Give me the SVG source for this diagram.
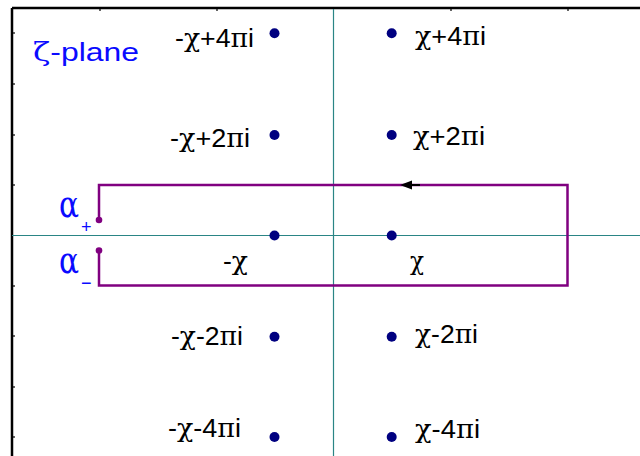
<svg xmlns="http://www.w3.org/2000/svg" width="640" height="456" viewBox="0 0 640 456">
<style>
  .frame { stroke: #000; stroke-width: 2.5; fill: none; }
  .tick { stroke: #000; stroke-width: 1.2; }
  .axis { stroke: #2a8585; stroke-width: 1.2; fill: none; }
  .pole { fill: #000080; }
  .contour { stroke: #800080; stroke-width: 2.5; fill: none; }
  .end { fill: #800080; }
  .lbl { font-family: "Liberation Sans", Arial, sans-serif; font-size: 26px; fill: #000; }
  .gr { font-family: "DejaVu Serif", "Liberation Serif", serif; font-style: normal; }
  .blue { font-family: "Liberation Sans", Arial, sans-serif; fill: #0a0aff; }
</style>
<rect width="640" height="456" fill="#fff"/>

<g id="frame">
  <line class="frame" x1="12" y1="8" x2="640" y2="8"/>
  <line class="frame" x1="12" y1="8" x2="12" y2="456"/>
  <g class="tick">
    <line x1="100" y1="8" x2="100" y2="11"/>
    <line x1="217" y1="8" x2="217" y2="11"/>
    <line x1="451" y1="8" x2="451" y2="11"/>
    <line x1="568" y1="8" x2="568" y2="11"/>
    <line x1="12" y1="33" x2="15" y2="33"/>
    <line x1="12" y1="84" x2="15" y2="84"/>
    <line x1="12" y1="135" x2="15" y2="135"/>
    <line x1="12" y1="185" x2="15" y2="185"/>
    <line x1="12" y1="286" x2="15" y2="286"/>
    <line x1="12" y1="336" x2="15" y2="336"/>
    <line x1="12" y1="387" x2="15" y2="387"/>
    <line x1="12" y1="437" x2="15" y2="437"/>
  </g>
</g>

<g id="axes">
  <line class="axis" x1="12" y1="235.5" x2="640" y2="235.5"/>
  <line class="axis" x1="333.5" y1="9" x2="333.5" y2="456"/>
</g>

<text id="title" class="blue" x="33" y="61" font-size="26" textLength="106" lengthAdjust="spacingAndGlyphs"><tspan class="gr">ζ</tspan>-plane</text>

<g id="connectors">
  <path class="contour" d="M99 220 V185 H567.5 V285.5 H99 V251"/>
  <circle class="end" cx="99" cy="220" r="3.3"/>
  <circle class="end" cx="99" cy="250.5" r="3.3"/>
  <line x1="411" y1="185" x2="420" y2="185" stroke="#000" stroke-width="2"/>
  <polygon points="400,185 412,180.5 412,189.5" fill="#000"/>
</g>

<g id="alpha-plus">
  <text class="gr" x="59" y="217" font-size="35" fill="#0a0aff" textLength="20" lengthAdjust="spacingAndGlyphs">α</text>
  <text class="blue" x="81" y="233" font-size="18">+</text>
</g>
<g id="alpha-minus">
  <text class="gr" x="59" y="273" font-size="35" fill="#0a0aff" textLength="20" lengthAdjust="spacingAndGlyphs">α</text>
  <text class="blue" x="81" y="289" font-size="18">−</text>
</g>

<g id="p-m4">
  <circle class="pole" cx="274.5" cy="33.3" r="5"/>
  <text class="lbl" x="175" y="47" textLength="79" lengthAdjust="spacingAndGlyphs">-<tspan class="gr">χ</tspan>+4<tspan class="gr">π</tspan>i</text>
</g>
<g id="p-m2">
  <circle class="pole" cx="274.5" cy="135" r="5"/>
  <text class="lbl" x="170" y="147" textLength="80" lengthAdjust="spacingAndGlyphs">-<tspan class="gr">χ</tspan>+2<tspan class="gr">π</tspan>i</text>
</g>
<g id="p-m0">
  <circle class="pole" cx="274.5" cy="235.5" r="5"/>
  <text class="lbl" x="223" y="270" textLength="25" lengthAdjust="spacingAndGlyphs">-<tspan class="gr">χ</tspan></text>
</g>
<g id="p-mm2">
  <circle class="pole" cx="274.5" cy="336.7" r="5"/>
  <text class="lbl" x="171" y="345" textLength="72" lengthAdjust="spacingAndGlyphs">-<tspan class="gr">χ</tspan>-2<tspan class="gr">π</tspan>i</text>
</g>
<g id="p-mm4">
  <circle class="pole" cx="274.5" cy="437" r="5"/>
  <text class="lbl" x="168" y="437" textLength="73" lengthAdjust="spacingAndGlyphs">-<tspan class="gr">χ</tspan>-4<tspan class="gr">π</tspan>i</text>
</g>

<g id="p-4">
  <circle class="pole" cx="391.7" cy="33.3" r="5"/>
  <text class="lbl" x="415" y="45" textLength="71" lengthAdjust="spacingAndGlyphs"><tspan class="gr">χ</tspan>+4<tspan class="gr">π</tspan>i</text>
</g>
<g id="p-2">
  <circle class="pole" cx="391.7" cy="135" r="5"/>
  <text class="lbl" x="413" y="145" textLength="72" lengthAdjust="spacingAndGlyphs"><tspan class="gr">χ</tspan>+2<tspan class="gr">π</tspan>i</text>
</g>
<g id="p-0">
  <circle class="pole" cx="391.7" cy="235.5" r="5"/>
  <text class="lbl gr" x="410" y="270" textLength="14" lengthAdjust="spacingAndGlyphs">χ</text>
</g>
<g id="p-n2">
  <circle class="pole" cx="391.7" cy="336.7" r="5"/>
  <text class="lbl" x="415" y="343" textLength="63" lengthAdjust="spacingAndGlyphs"><tspan class="gr">χ</tspan>-2<tspan class="gr">π</tspan>i</text>
</g>
<g id="p-n4">
  <circle class="pole" cx="391.7" cy="437" r="5"/>
  <text class="lbl" x="415" y="438" textLength="65" lengthAdjust="spacingAndGlyphs"><tspan class="gr">χ</tspan>-4<tspan class="gr">π</tspan>i</text>
</g>
</svg>
